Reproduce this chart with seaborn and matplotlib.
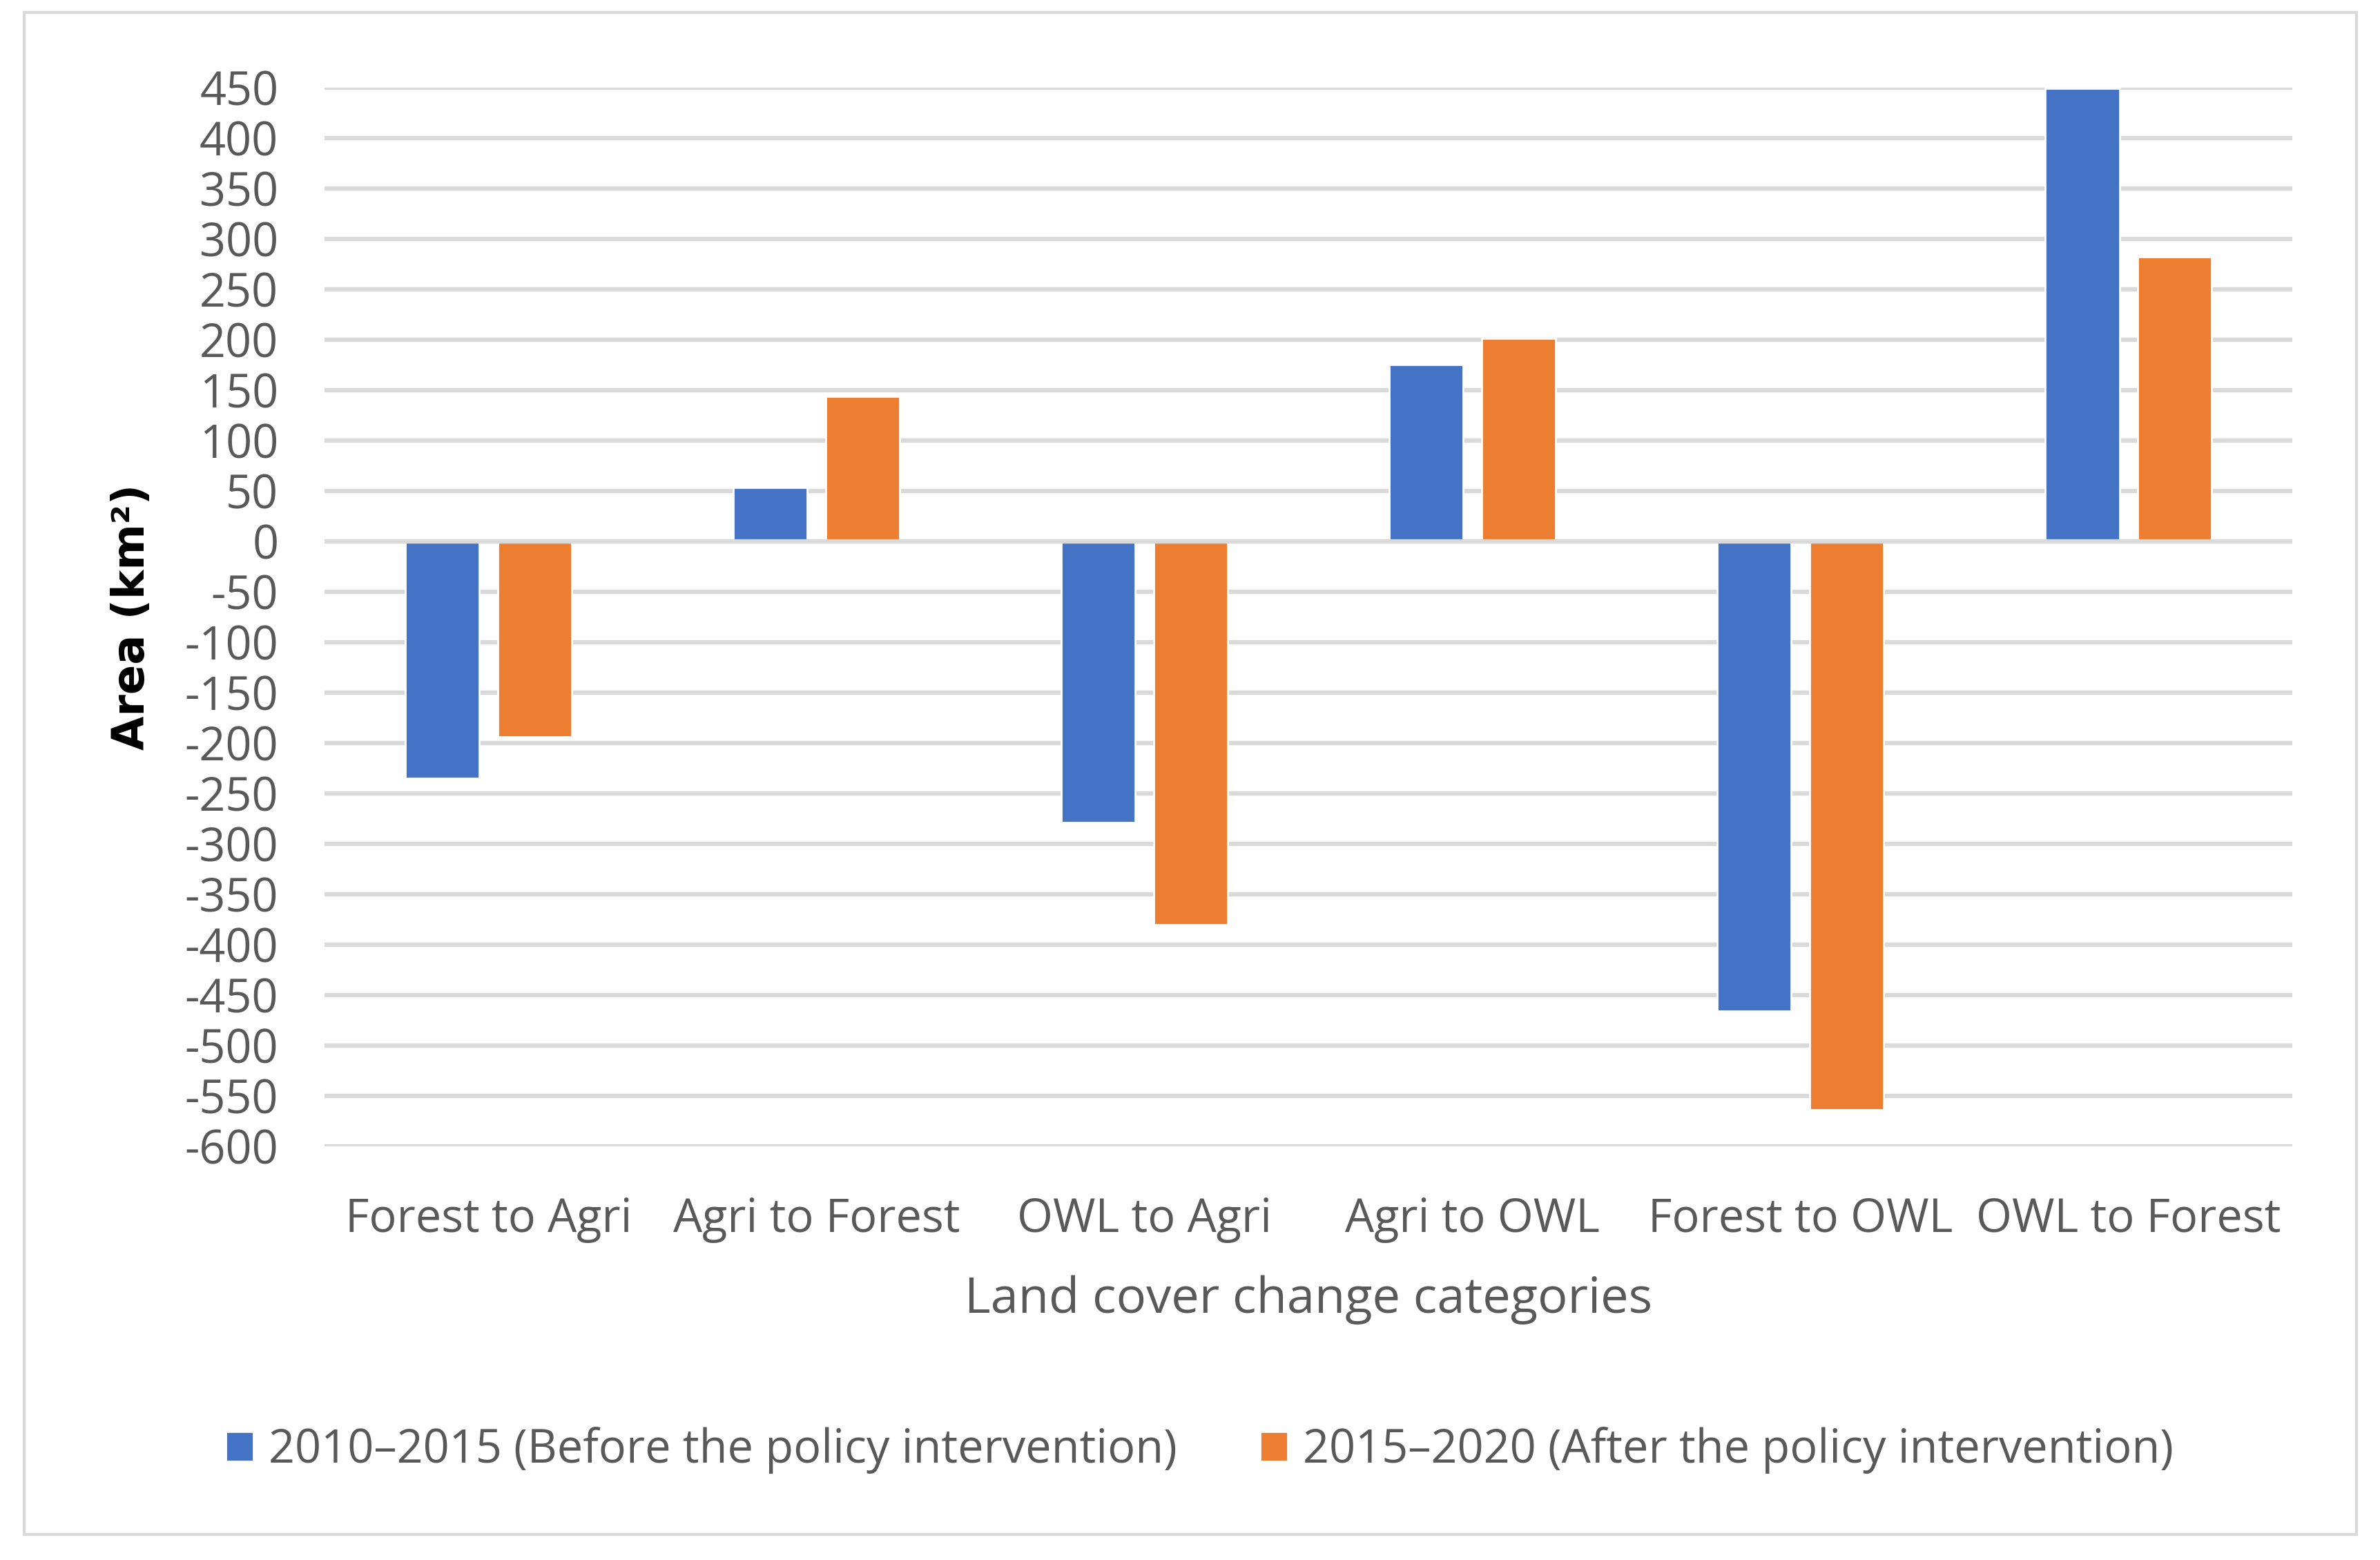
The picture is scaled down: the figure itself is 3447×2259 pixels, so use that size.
import matplotlib
matplotlib.use("Agg")
import matplotlib.pyplot as plt
import seaborn as sns
import pandas as pd
from matplotlib.patches import Rectangle

# Data
categories = ['Forest to Agri', 'Agri to Forest', 'OWL to Agri',
              'Agri to OWL', 'Forest to OWL', 'OWL to Forest']
before_values = [-235, 53, -279, 175, -466, 449]
after_values = [-194, 144, -380, 201, -564, 282]
series_names = ['2010\u20132015 (Before the policy intervention)',
                '2015\u20132020 (After the policy intervention)']
y_ticks = list(range(-600, 451, 50))

df = pd.DataFrame({
    'Category': categories * 2,
    'Area': before_values + after_values,
    'Period': [series_names[0]] * len(categories) + [series_names[1]] * len(categories),
})

sns.set_theme(style='white')
plt.rcParams['font.family'] = ['Open Sans', 'DejaVu Sans']

text_color = '#595959'
grid_color = '#D9D9D9'
colors = ['#4472C4', '#ED7D31']

fig = plt.figure(figsize=(17.24, 11.295), dpi=200)
ax = fig.add_axes([0.1363, 0.2652, 0.8266, 0.6787])

sns.barplot(data=df, x='Category', y='Area', hue='Period', palette=colors,
            width=0.564, gap=0.195, ax=ax, zorder=2, saturation=1)

ax.set_ylim(-600, 450)
ax.set_xlim(-0.5, len(categories) - 0.5)
ax.set_yticks(y_ticks)
ax.set_yticklabels([str(v) for v in y_ticks])
for v in y_ticks:
    ax.axhline(v, color=grid_color, lw=2.3, zorder=1 if v != 0 else 3)

for s in ax.spines.values():
    s.set_visible(False)
ax.tick_params(axis='both', length=0, labelsize=24, colors=text_color)
ax.tick_params(axis='y', pad=24)
ax.tick_params(axis='x', pad=26)

ax.set_xlabel('Land cover change categories', fontsize=26, color=text_color)
ax.xaxis.set_label_coords(0.5, -0.122)
ax.set_ylabel('Area (km\u00b2)', fontsize=23, fontweight='bold', color='black',
              family='DejaVu Sans')
ax.yaxis.set_label_coords(-0.087, 0.5)

handles, labels = ax.get_legend_handles_labels()
ax.get_legend().remove()
fig.legend(handles, labels, loc='center', bbox_to_anchor=(0.504, 0.0704), ncol=2,
           frameon=False, fontsize=24, labelcolor=text_color,
           handlelength=0.6, handleheight=0.6, handletextpad=0.33,
           columnspacing=1.8)

# outer chart border
fig.patches.append(Rectangle((35 / 3448, 1 - 2222 / 2259), (3413 - 35) / 3448,
                             (2222 - 18) / 2259, transform=fig.transFigure,
                             fill=False, edgecolor=grid_color, lw=1.5))

fig.savefig('out.png', dpi=200, facecolor='white')
